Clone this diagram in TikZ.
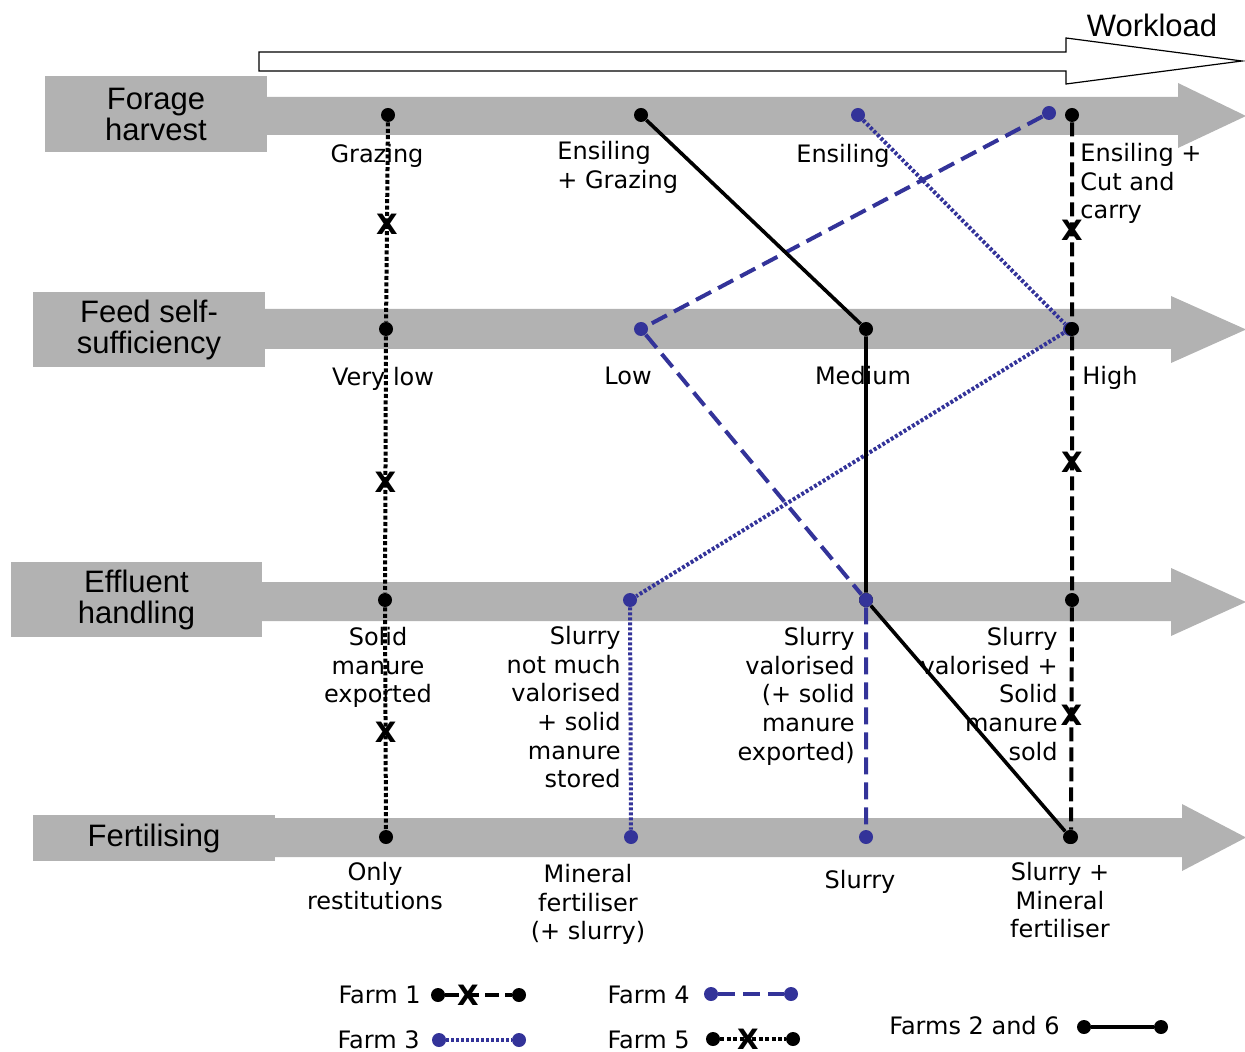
\documentclass[tikz,border=0pt]{standalone}
\usepackage{fontspec}
\setmainfont{DejaVu Sans}
\newfontfamily\headfam{Liberation Sans}

\newlength{\du}
\setlength{\du}{0.5pt}

\definecolor{bandgrey}{rgb}{0.698000, 0.698000, 0.698000}
\definecolor{farmblue}{rgb}{0.200000, 0.200000, 0.600000}

\pgfdeclarelayer{back}
\pgfdeclarelayer{links}
\pgfsetlayers{back,links,main}

\tikzset{
  blackdot/.style={circle, fill=black, inner sep=0pt, minimum size=7pt},
  bluedot/.style={blackdot, fill=farmblue},
  xmark/.style={inner sep=0pt, font=\fontsize{14}{14}\selectfont\bfseries},
  lbl/.style={inner sep=0pt, font=\fontsize{12}{14.3}\selectfont},
  rowhead/.style={fill=bandgrey, inner sep=0pt, align=center, font=\headfam\fontsize{15.5}{15.5}\selectfont},
  band/.style={fill=bandgrey},
  farmone/.style={line width=2pt, dash pattern=on 7pt off 3pt},
  farmthree/.style={farmblue, line width=2pt, dash pattern=on 1.5pt off 1pt},
  farmfour/.style={farmblue, line width=2pt, dash pattern=on 8.5pt off 4pt},
  farmfive/.style={line width=2pt, dash pattern=on 2pt off 1.2pt},
  farmtwosix/.style={line width=1.8pt}
}

\begin{document}
\begin{tikzpicture}
\pgftransformxscale{1.000000}
\pgftransformyscale{-1.000000}
\useasboundingbox (0\du,0\du) rectangle (1245\du,1052\du);

% workload arrow
\draw[line width=0.6pt, fill=white] (259\du,52\du)--(1066\du,52\du)--(1066\du,38\du)--(1242\du,61\du)--(1066\du,84\du)--(1066\du,71\du)--(259\du,71\du)--cycle;
\node[anchor=base, inner sep=0pt, font=\headfam\fontsize{15.5}{15.5}\selectfont] (workload) at (1152\du,37\du) {Workload};

% row titles
\node[rowhead, minimum width=222\du, minimum height=76\du] (forage) at (156\du,114\du) {Forage\\harvest};
\node[rowhead, minimum width=232\du, minimum height=75\du] (feed) at (149\du,329.5\du) {Feed self-\\sufficiency};
\node[rowhead, minimum width=251\du, minimum height=75\du] (effluent) at (136.5\du,599.5\du) {Effluent\\handling};
\node[rowhead, minimum width=242\du, minimum height=46\du] (fert) at (154\du,838\du) {Fertilising};

% farm 5
\node[blackdot] (f5a) at (388\du,115\du) {};
\node[blackdot] (f5b) at (386\du,329\du) {};
\node[blackdot] (f5c) at (385\du,600\du) {};
\node[blackdot] (f5d) at (386\du,837\du) {};
% farms 2 and 6
\node[blackdot] (f26a) at (641\du,115\du) {};
\node[blackdot] (f26b) at (866\du,329\du) {};
\node[blackdot] (f26c) at (866\du,600\du) {};
\node[blackdot] (f26d) at (1070\du,837\du) {};
% farm 3
\node[bluedot] (f3a) at (858\du,115\du) {};
\node[bluedot] (f3b) at (1070\du,329\du) {};
\node[bluedot] (f3c) at (630\du,600\du) {};
\node[bluedot] (f3d) at (631\du,837\du) {};
% farm 4
\node[bluedot] (f4a) at (1049\du,113\du) {};
\node[bluedot] (f4b) at (641\du,329\du) {};
\node[bluedot] (f4c) at (866\du,600\du) {};
\node[bluedot] (f4d) at (866\du,837\du) {};
% farm 1
\node[blackdot] (f1a) at (1072\du,115\du) {};
\node[blackdot] (f1b) at (1072\du,329\du) {};
\node[blackdot] (f1c) at (1072\du,600\du) {};
\node[blackdot] (f1d) at (1071\du,837\du) {};

\begin{pgfonlayer}{back}
\fill[band] (260\du,97\du)--(1178\du,97\du)--(1178\du,83\du)--(1246\du,116\du)--(1178\du,148\du)--(1178\du,135\du)--(260\du,135\du)--cycle;
\fill[band] (258\du,309\du)--(1171\du,309\du)--(1171\du,296\du)--(1246\du,329.5\du)--(1171\du,363\du)--(1171\du,349\du)--(258\du,349\du)--cycle;
\fill[band] (255\du,582\du)--(1171\du,582\du)--(1171\du,568\du)--(1246\du,602\du)--(1171\du,636\du)--(1171\du,621\du)--(255\du,621\du)--cycle;
\fill[band] (268\du,818\du)--(1182\du,818\du)--(1182\du,804\du)--(1246\du,837.5\du)--(1182\du,871\du)--(1182\du,857\du)--(268\du,857\du)--cycle;

% labels under the links
\node[lbl, anchor=north] (lgraz) at (377\du,144\du) {Grazing};
\node[lbl, anchor=north west, align=left] (lensgraz) at (557\du,141\du) {Ensiling\\+ Grazing};
\node[lbl, anchor=north] (lens) at (843\du,144\du) {Ensiling};
\node[lbl, anchor=north west, align=left] (lenscut) at (1080\du,143\du) {Ensiling +\\Cut and\\carry};
\node[lbl, anchor=north] (lvlow) at (383\du,367\du) {Very low};
\node[lbl, anchor=north] (llow) at (628\du,367\du) {Low};
\node[lbl, anchor=north] (lmed) at (863\du,366\du) {Medium};
\node[lbl, anchor=north west] (lhigh) at (1082\du,366\du) {High};
\node[lbl, anchor=north, align=center] (lsolid) at (378\du,627\du) {Solid\\manure\\exported};
\node[lbl, anchor=north east, align=right] (lslurlow) at (621\du,626\du) {Slurry\\not much\\valorised\\+ solid\\manure\\stored};
\node[lbl, anchor=north east, align=right] (lslurval) at (855\du,627\du) {Slurry\\valorised\\(+ solid\\manure\\exported)};
\node[lbl, anchor=north east, align=right] (lslursold) at (1058\du,627\du) {Slurry\\valorised +\\Solid\\manure\\sold};
\node[lbl, anchor=north, align=center] (lonly) at (375\du,862\du) {Only\\restitutions};
\node[lbl, anchor=north, align=center] (lmin) at (588\du,864\du) {Mineral\\fertiliser\\(+ slurry)};
\node[lbl, anchor=north] (lslur) at (860\du,870\du) {Slurry};
\node[lbl, anchor=north, align=center] (lslurmin) at (1060\du,862\du) {Slurry +\\Mineral\\fertiliser};
\end{pgfonlayer}

\begin{pgfonlayer}{links}
\draw[farmthree] (f3a) -- (f3b) -- (f3c) -- (f3d);
\draw[farmfour] (f4a) -- (f4b) -- (f4c) -- (f4d);
\draw[farmtwosix] (f26a) -- (f26b) -- (f26c) -- (f26d);
\draw[farmone] (f1a) -- node[xmark, pos=0.54] (x1a) {X} (f1b) -- node[xmark, pos=0.49] (x1b) {X} (f1c) -- node[xmark, pos=0.485] (x1c) {X} (f1d);
\draw[farmfive] (f5a) -- node[xmark, pos=0.51] (x5a) {X} (f5b) -- node[xmark, pos=0.57] (x5b) {X} (f5c) -- node[xmark, pos=0.56] (x5c) {X} (f5d);
\end{pgfonlayer}

% legend
\node[lbl, anchor=base east] (leg1) at (421\du,1003\du) {Farm 1};
\node[blackdot] (l1a) at (438\du,995\du) {};
\node[blackdot] (l1b) at (519\du,995\du) {};
\draw[farmone] (l1a) -- node[xmark, pos=0.34] (lx1) {X} (l1b);
\node[lbl, anchor=base east] (leg3) at (420\du,1048\du) {Farm 3};
\node[bluedot] (l3a) at (439\du,1040\du) {};
\node[bluedot] (l3b) at (519\du,1040\du) {};
\draw[farmthree] (l3a) -- (l3b);
\node[lbl, anchor=base east] (leg4) at (690\du,1003\du) {Farm 4};
\node[bluedot] (l4a) at (711\du,994\du) {};
\node[bluedot] (l4b) at (791\du,994\du) {};
\draw[farmfour] (l4a) -- (l4b);
\node[lbl, anchor=base east] (leg5) at (690\du,1048\du) {Farm 5};
\node[blackdot] (l5a) at (713\du,1039\du) {};
\node[blackdot] (l5b) at (793\du,1039\du) {};
\draw[farmfive] (l5a) -- node[xmark, pos=0.42] (lx5) {X} (l5b);
\node[lbl, anchor=base east] (leg26) at (1060\du,1034\du) {Farms 2 and 6};
\node[blackdot] (l26a) at (1084\du,1027\du) {};
\node[blackdot] (l26b) at (1161\du,1027\du) {};
\draw[farmtwosix] (l26a) -- (l26b);
\end{tikzpicture}
\end{document}
